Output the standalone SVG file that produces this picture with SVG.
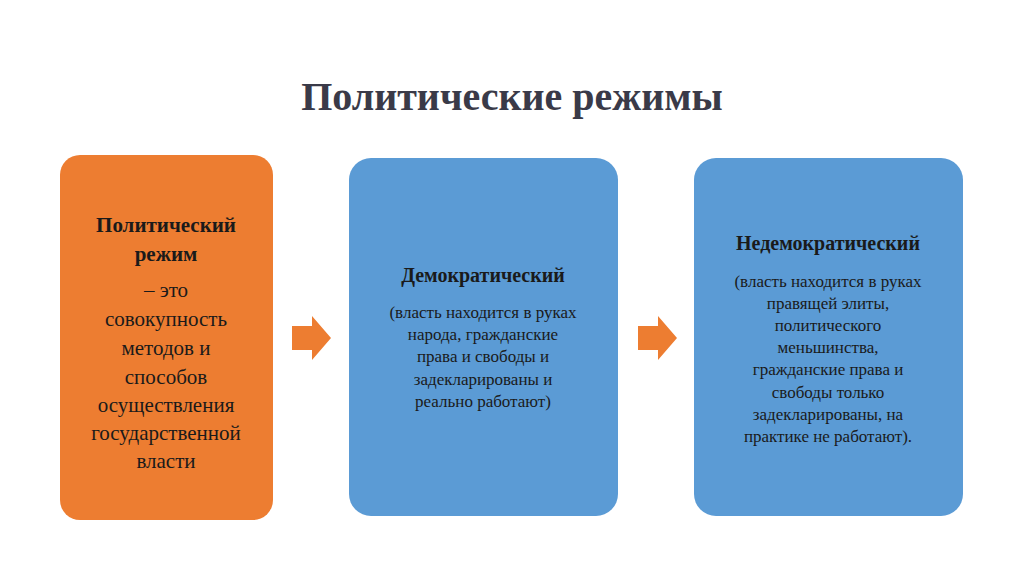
<svg xmlns="http://www.w3.org/2000/svg" width="1024" height="574" viewBox="0 0 1024 574">
<style>
.t{font-family:"Liberation Serif","Times New Roman",serif;fill:#1a1a1a;text-anchor:middle}
.b{font-weight:bold}
.s{font-size:17px}
.m{font-size:21px}
.box{stroke:none}
</style>
<rect width="1024" height="574" fill="#fff"/>
<text x="512" y="110" class="t b" font-size="40" fill="#3a3a48" style="fill:#3a3a48">Политические режимы</text>
<g id="n1">
<rect class="box" x="60" y="155" width="213" height="365" rx="20" fill="#ED7D31"/>
<text class="t m b" x="166" y="232">Политический</text>
<text class="t m b" x="166" y="261">режим</text>
<text class="t m" x="166" y="297">– это</text>
<text class="t m" x="166" y="326">совокупность</text>
<text class="t m" x="166" y="355">методов и</text>
<text class="t m" x="166" y="384">способов</text>
<text class="t m" x="166" y="412">осуществления</text>
<text class="t m" x="166" y="440">государственной</text>
<text class="t m" x="166" y="468">власти</text>
</g>
<g id="n2">
<rect class="box" x="349" y="158" width="269" height="358" rx="22" fill="#5B9BD5"/>
<text class="t b" font-size="20" x="483" y="282">Демократический</text>
<text class="t s" x="483" y="318">(власть находится в руках</text>
<text class="t s" x="483" y="340">народа, гражданские</text>
<text class="t s" x="483" y="362">права и свободы и</text>
<text class="t s" x="483" y="385">задекларированы и</text>
<text class="t s" x="483" y="407">реально работают)</text>
</g>
<g id="n3">
<rect class="box" x="694" y="158" width="269" height="358" rx="22" fill="#5B9BD5"/>
<text class="t b" font-size="20" x="828" y="250">Недемократический</text>
<text class="t s" x="828" y="287">(власть находится в руках</text>
<text class="t s" x="828" y="309">правящей элиты,</text>
<text class="t s" x="828" y="331">политического</text>
<text class="t s" x="828" y="353">меньшинства,</text>
<text class="t s" x="828" y="375">гражданские права и</text>
<text class="t s" x="828" y="398">свободы только</text>
<text class="t s" x="828" y="420">задекларированы, на</text>
<text class="t s" x="828" y="442">практике не работают).</text>
</g>
<g id="connectors" fill="#ED7D31">
<polygon points="292,326 312,326 312,316 331,338 312,360 312,350 292,350"/>
<polygon points="638,326 658,326 658,316 677,338 658,360 658,350 638,350"/>
</g>
</svg>
